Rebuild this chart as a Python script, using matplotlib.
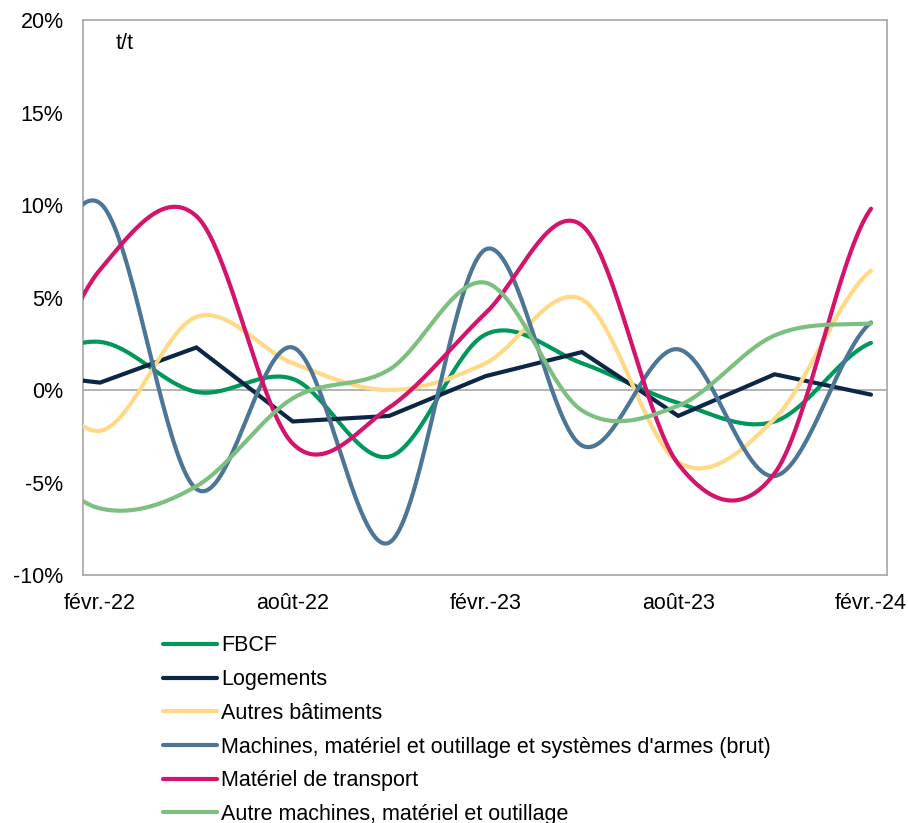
import numpy as np
import matplotlib
matplotlib.use("Agg")
import matplotlib.pyplot as plt

plt.rcParams["font.family"] = ["Liberation Sans", "DejaVu Sans"]

# Quarterly growth rates (t/t, %), from nov.-21 to févr.-24
quarters = ["nov.-21", "févr.-22", "mai-22", "août-22", "nov.-22",
            "févr.-23", "mai-23", "août-23", "nov.-23", "févr.-24"]

fbcf = [1.0, 2.6, -0.1, 0.6, -3.6, 3.0, 1.45, -0.7, -1.7, 2.55]
logements = [1.0, 0.4, 2.3, -1.7, -1.4, 0.75, 2.05, -1.4, 0.85, -0.25]
autres_batiments = [2.5, -2.2, 3.95, 1.45, 0.0, 1.45, 4.9, -3.9, -1.55, 6.45]
machines_brut = [2.5, 10.1, -5.35, 2.3, -8.25, 7.6, -3.0, 2.2, -4.65, 3.65]
transport = [-3.0, 6.5, 9.4, -2.9, -0.95, 4.15, 8.9, -4.0, -4.5, 9.8]
autres_machines = [-2.8, -6.4, -5.2, -0.45, 1.1, 5.8, -1.1, -0.85, 2.95, 3.6]

tick_labels = ["févr.-22", "août-22", "févr.-23", "août-23", "févr.-24"]

series = [
    ("FBCF", fbcf, "#00985A", True),
    ("Logements", logements, "#0C2746", False),
    ("Autres bâtiments", autres_batiments, "#FFD985", True),
    ("Machines, matériel et outillage et systèmes d'armes (brut)", machines_brut, "#4C7596", True),
    ("Matériel de transport", transport, "#D4136A", True),
    ("Autre machines, matériel et outillage", autres_machines, "#7CBF80", True),
]

# x position in months relative to févr.-22
x_months = np.arange(len(quarters)) * 3 - 3


def smooth(x, y, n=40):
    """Catmull-Rom style smoothing through every point."""
    x = np.asarray(x, float)
    y = np.asarray(y, float)
    m = np.empty_like(y)
    m[1:-1] = (y[2:] - y[:-2]) / 2
    m[0] = (y[1] - y[0]) / 2
    m[-1] = (y[-1] - y[-2]) / 2
    xs, ys = [], []
    for i in range(len(y) - 1):
        t = np.linspace(0, 1, n, endpoint=(i == len(y) - 2))
        h00 = 2 * t**3 - 3 * t**2 + 1
        h10 = t**3 - 2 * t**2 + t
        h01 = -2 * t**3 + 3 * t**2
        h11 = t**3 - t**2
        ys.append(h00 * y[i] + h10 * m[i] + h01 * y[i + 1] + h11 * m[i + 1])
        xs.append(x[i] + t * (x[i + 1] - x[i]))
    return np.concatenate(xs), np.concatenate(ys)


FS = 15.5

fig = plt.figure(figsize=(9.08, 8.23), dpi=100)
ax = fig.add_axes([0.0914, 0.3013, 0.8852, 0.6744])

ax.axhline(0, color="#A6A6A6", lw=1.2, zorder=1)

handles = []
for label, vals, color, smoothed in series:
    if smoothed:
        xs, ys = smooth(x_months, vals)
    else:
        xs, ys = x_months, np.asarray(vals, float)
    h, = ax.plot(xs, ys, color=color, lw=3.0, label=label,
                 solid_capstyle="round", solid_joinstyle="miter", zorder=3)
    handles.append(h)

ax.set_xlim(-0.53, 24.49)
ax.set_ylim(-10, 20)
ax.set_yticks(np.arange(-10, 21, 5))
ax.set_yticklabels([f"{v}%" for v in range(-10, 21, 5)])
ax.set_xticks([0, 6, 12, 18, 24])
ax.set_xticklabels(tick_labels)
ax.tick_params(axis="both", length=0, labelsize=FS, colors="black")
ax.tick_params(axis="y", pad=14)
ax.tick_params(axis="x", pad=13)

for sp in ax.spines.values():
    sp.set_color("#A6A6A6")
    sp.set_linewidth(1.2)

ax.text(0.04, 0.957, "t/t", transform=ax.transAxes, fontsize=FS,
        ha="left", va="center")

fig.legend(handles=handles, loc="upper left", bbox_to_anchor=(0.1795, 0.2279),
           frameon=False, fontsize=FS, handlelength=2.5, handletextpad=0.2,
           labelspacing=0.59, borderpad=0, borderaxespad=0)

fig.savefig("out.png", dpi=100)
